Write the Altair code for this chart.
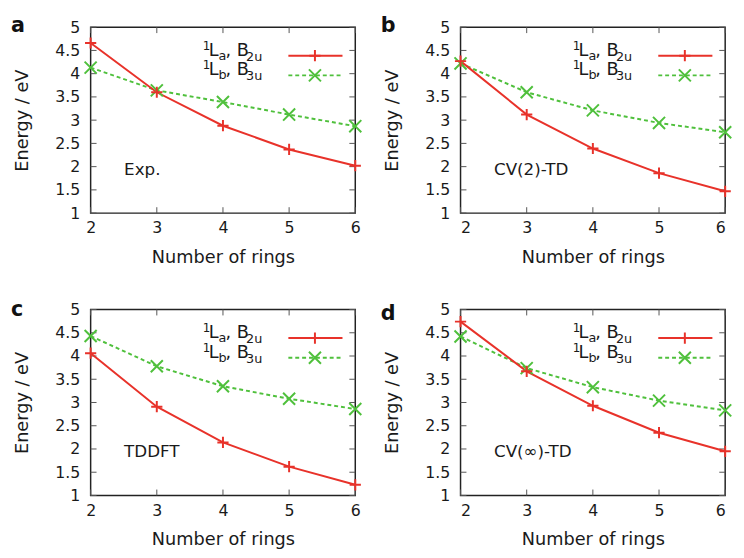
import altair as alt
import pandas as pd

# ---- data ----
rings = [2, 3, 4, 5, 6]
exp_La = [4.66, 3.60, 2.88, 2.37, 2.02]
exp_Lb = [4.13, 3.64, 3.39, 3.12, 2.87]
cv2_La = [4.27, 3.12, 2.39, 1.86, 1.47]
cv2_Lb = [4.22, 3.60, 3.21, 2.94, 2.74]
tddft_La = [4.06, 2.91, 2.14, 1.62, 1.23]
tddft_Lb = [4.43, 3.78, 3.35, 3.08, 2.86]
cvinf_La = [4.74, 3.67, 2.93, 2.35, 1.95]
cvinf_Lb = [4.42, 3.74, 3.33, 3.04, 2.83]

x_ticks = [2, 3, 4, 5, 6]
y_ticks = [1, 1.5, 2, 2.5, 3, 3.5, 4, 4.5, 5]

panel_letters = ["a", "b", "c", "d"]
panel_names = ["Exp.", "CV(2)-TD", "TDDFT", "CV(\u221e)-TD"]

RED = "#e8322a"
GREEN = "#4fc03c"
FONT = "DejaVu Sans"
W, H = 269, 189
PLUS = "M-1,0L1,0M0,-1L0,1"
CROSS = "M-1,-1L1,1M-1,1L1,-1"

Y = alt.Y("E:Q", scale=alt.Scale(domain=[1, 5], nice=False, zero=False),
          axis=alt.Axis(values=y_ticks, title="Energy / eV", format="~g"))

one = pd.DataFrame({"k": [0]})


def make_x(flush):
    return alt.X("rings:Q", scale=alt.Scale(domain=[2, 6], nice=False, zero=False),
                 axis=alt.Axis(values=x_ticks, title="Number of rings", format="d", labelFlush=flush))


def legend_layers():
    layers = []
    rows = [
        (29, RED, [], PLUS, 130, [("1", 114, -6, 12), ("L", 120, 0, 18), ("a", 130, 4, 13), (", B", 137, 0, 18), ("2u", 158, 5, 13)]),
        (49, GREEN, [4, 3], CROSS, 150, [("1", 114, -6, 12), ("L", 120, 0, 18), ("b", 130, 4, 13), (", B", 137, 0, 18), ("3u", 158, 5, 13)]),
    ]
    for ly, col, dash, shp, sz, pieces in rows:
        rule_kw = dict(color=col, strokeWidth=2)
        if dash:
            rule_kw["strokeDash"] = dash
        layers.append(alt.Chart(one).mark_rule(**rule_kw).encode(
            x=alt.value(201), x2=alt.value(256), y=alt.value(ly)))
        layers.append(alt.Chart(one).mark_point(shape=shp, size=sz, color=col, strokeWidth=2,
                                                filled=False, opacity=1).encode(
            x=alt.value(228), y=alt.value(ly)))
        for txt, px, dy, fs in pieces:
            layers.append(alt.Chart(one).mark_text(text=txt, font=FONT, fontSize=fs, align="left",
                                                   baseline="alphabetic", color="#1a1a1a").encode(
                x=alt.value(px), y=alt.value(ly + dy)))
    return layers


def panel(La, Lb, letter, name, letter_y, flush):
    X = make_x(flush)
    dfa = pd.DataFrame({"rings": rings, "E": La})
    dfb = pd.DataFrame({"rings": rings, "E": Lb})
    xt = pd.DataFrame({"rings": x_ticks})
    yt = pd.DataFrame({"E": y_ticks})
    tick_col = "#555555"
    layers = [
        alt.Chart(xt).mark_rule(color=tick_col, strokeWidth=1).encode(x=X, y=alt.value(H), y2=alt.value(H - 6)),
        alt.Chart(xt).mark_rule(color=tick_col, strokeWidth=1).encode(x=X, y=alt.value(0), y2=alt.value(6)),
        alt.Chart(yt).mark_rule(color=tick_col, strokeWidth=1).encode(y=Y, x=alt.value(0), x2=alt.value(6)),
        alt.Chart(yt).mark_rule(color=tick_col, strokeWidth=1).encode(y=Y, x=alt.value(W), x2=alt.value(W - 6)),
        alt.Chart(dfb).mark_line(color=GREEN, strokeWidth=2, strokeDash=[4, 3]).encode(x=X, y=Y),
        alt.Chart(dfa).mark_line(color=RED, strokeWidth=2).encode(x=X, y=Y),
        alt.Chart(dfb).mark_point(shape=CROSS, size=150, color=GREEN, strokeWidth=2, filled=False,
                                  opacity=1).encode(x=X, y=Y),
        alt.Chart(dfa).mark_point(shape=PLUS, size=130, color=RED, strokeWidth=2, filled=False,
                                  opacity=1).encode(x=X, y=Y),
    ]
    layers += legend_layers()
    layers.append(alt.Chart(one).mark_text(text=name, font=FONT, fontSize=17, align="left",
                                           baseline="alphabetic", color="#1a1a1a").encode(
        x=alt.value(34), y=alt.value(150)))
    layers.append(alt.Chart(one).mark_text(text=letter, font=FONT, fontSize=21, fontWeight="bold",
                                           align="left", baseline="alphabetic", color="#111111").encode(
        x=alt.value(-81), y=alt.value(letter_y)))
    return alt.layer(*layers).properties(width=W, height=H)


pa = panel(exp_La, exp_Lb, panel_letters[0], panel_names[0], 5, False)
pb = panel(cv2_La, cv2_Lb, panel_letters[1], panel_names[1], 5, True)
pc = panel(tddft_La, tddft_Lb, panel_letters[2], panel_names[2], 7, False)
pd_ = panel(cvinf_La, cvinf_Lb, panel_letters[3], panel_names[3], 11, True)

chart = alt.vconcat(
    alt.hconcat(pa, pb, spacing=14),
    alt.hconcat(pc, pd_, spacing=14),
    spacing=32,
).properties(
    padding={"left": 2, "top": 2, "right": 0, "bottom": 0}
).configure_view(
    stroke="#222222", strokeWidth=1.5
).configure_axis(
    ticks=False, domain=False, grid=False,
    labelFont=FONT, labelFontSize=16, labelColor="#1a1a1a", labelPadding=7,
    titleFont=FONT, titleFontSize=18, titleFontWeight="normal", titleColor="#1a1a1a",
    titlePadding=13,
).configure_axisY(
    titlePadding=24, labelPadding=11
)

chart.save("out.html", embed_options={"renderer": "svg", "actions": False})
